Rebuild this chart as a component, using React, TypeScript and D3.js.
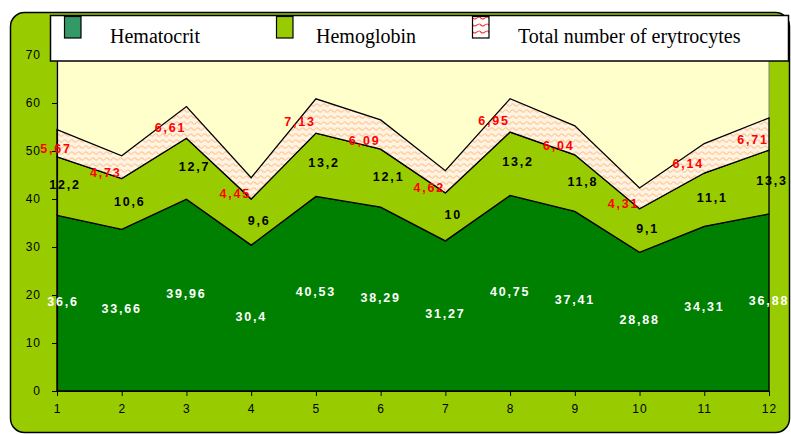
import React, { useEffect, useRef } from "react";
import * as d3 from "d3";

const months = [1, 2, 3, 4, 5, 6, 7, 8, 9, 10, 11, 12];
const hematocrit = [36.6, 33.66, 39.96, 30.4, 40.53, 38.29, 31.27, 40.75, 37.41, 28.88, 34.31, 36.88];
const hemoglobin = [12.2, 10.6, 12.7, 9.6, 13.2, 12.1, 10, 13.2, 11.8, 9.1, 11.1, 13.3];
const erythrocytes = [5.67, 4.73, 6.61, 4.45, 7.13, 6.09, 4.62, 6.95, 6.04, 4.31, 6.14, 6.71];
const seriesNames = ["Hematocrit", "Hemoglobin", "Total number of erytrocytes"];
const yTicks = [0, 10, 20, 30, 40, 50, 60, 70];

const W = 791;
const H = 434;
const plot = { left: 57, right: 769, top: 55, bottom: 391 };
const SANS = "'Liberation Sans', Arial, sans-serif";
const SERIF = "'Liberation Serif', 'Times New Roman', serif";

const fmt = (v: number) => String(v).replace(".", ",");

export default function App() {
  const xAxisRef = useRef<SVGGElement>(null);
  const yAxisRef = useRef<SVGGElement>(null);

  const x = d3.scaleLinear().domain([1, 12]).range([plot.left, plot.right]);
  const y = d3.scaleLinear().domain([0, 70]).range([plot.bottom, plot.top]);

  const rows = months.map((m, i) => ({
    m,
    hct: hematocrit[i],
    hgb: hemoglobin[i],
    ery: erythrocytes[i],
  }));
  const values = [hematocrit, hemoglobin, erythrocytes];
  const stack = d3.stack<any>().keys(["hct", "hgb", "ery"]);
  const layers = stack(rows);

  const area = d3
    .area<any>()
    .x((d) => x(d.data.m))
    .y0((d) => y(d[0]))
    .y1((d) => y(d[1]));

  const fills = ["#008000", "#99CC00", "url(#eryPattern)"];
  const labelStyle = [
    { color: "#FFFFFF", dx: 0, dy: -1.5, minX: plot.left + 6, maxX: plot.right },
    { color: "#000000", dx: 8, dy: -1.5, minX: plot.left + 6, maxX: plot.right + 3 },
    { color: "#FF0000", dx: -16, dy: 6, minX: plot.left - 1, maxX: plot.right },
  ];

  useEffect(() => {
    const xa = d3
      .axisBottom(x)
      .tickValues(months)
      .tickFormat((d) => String(d))
      .tickSize(5)
      .tickSizeOuter(0)
      .tickPadding(8);
    const ya = d3
      .axisLeft(y)
      .tickValues(yTicks)
      .tickFormat((d) => String(d))
      .tickSize(5)
      .tickSizeOuter(0)
      .tickPadding(11);
    const gx = d3.select(xAxisRef.current!);
    gx.call(xa as any);
    const gy = d3.select(yAxisRef.current!);
    gy.call(ya as any);
    [gx, gy].forEach((g) => {
      g.attr("font-family", SANS).attr("font-size", 12);
      g.selectAll("text").attr("fill", "#000").style("letter-spacing", "1px");
      g.selectAll("line").attr("stroke", "#000");
      g.select(".domain").attr("stroke", "#000").attr("stroke-width", 1.2);
    });
  }, []);

  const legendItems = [
    { sw: 64, tx: 110, fill: "#339966" },
    { sw: 276, tx: 316, fill: "#99CC00" },
    { sw: 472, tx: 518, fill: "url(#eryLegendPattern)" },
  ];

  return (
    <svg
      width={W}
      height={H}
      style={{ position: "absolute", left: 0, top: 0, display: "block" }}
    >
      <defs>
        <pattern id="eryPattern" width={7} height={6} patternUnits="userSpaceOnUse">
          <rect width={7} height={6} fill="#FFF4E4" />
          <path d="M0,3 Q1.75,0.6 3.5,3 T7,3" fill="none" stroke="#FFCC99" strokeWidth={1.3} />
        </pattern>
        <pattern id="eryLegendPattern" width={8} height={7} patternUnits="userSpaceOnUse">
          <rect width={8} height={7} fill="#FFFFFF" />
          <path d="M0,3 Q2,6 4,4.5 T8,3" fill="none" stroke="#FF3333" strokeWidth={1.2} />
        </pattern>
      </defs>

      {/* chart area frame */}
      <rect x={10.5} y={12.5} width={779} height={420} rx={14} ry={14} fill="#99CC00" stroke="#000" strokeWidth={1.5} />

      {/* plot area */}
      <rect
        x={plot.left}
        y={plot.top}
        width={plot.right - plot.left}
        height={plot.bottom - plot.top}
        fill="#FFFFCC"
        stroke="#808080"
        strokeWidth={1}
      />

      {layers.map((layer, li) => (
        <path key={li} d={area(layer as any) || ""} fill={fills[li]} stroke="#000" strokeWidth={1.3} strokeLinejoin="miter" />
      ))}

      <g ref={xAxisRef} transform={`translate(0,${plot.bottom})`} />
      <g ref={yAxisRef} transform={`translate(${plot.left},0)`} />

      {layers.map((layer, li) =>
        layer.map((d: any, i: number) => {
          const s = labelStyle[li];
          const cx = Math.min(Math.max(x(d.data.m) + s.dx, s.minX), s.maxX);
          return (
            <text
              key={`${li}-${i}`}
              x={cx}
              y={y((d[0] + d[1]) / 2) + s.dy}
              textAnchor="middle"
              dominantBaseline="central"
              fontFamily={SANS}
              fontWeight="bold"
              fontSize={12.5}
              letterSpacing="1.8px"
              fill={s.color}
            >
              {fmt(values[li][i])}
            </text>
          );
        })
      )}

      {/* legend */}
      <rect x={50.5} y={15.5} width={738} height={45.5} fill="#FFFFFF" stroke="#000" strokeWidth={1.5} />
      {legendItems.map((it, i) => (
        <g key={i}>
          <rect x={it.sw + 0.5} y={16.5} width={16.5} height={21.5} fill={it.fill} stroke="#000" strokeWidth={1.2} />
          <text x={it.tx} y={43} fontFamily={SERIF} fontSize={20} fill="#000">
            {seriesNames[i]}
          </text>
        </g>
      ))}
    </svg>
  );
}
